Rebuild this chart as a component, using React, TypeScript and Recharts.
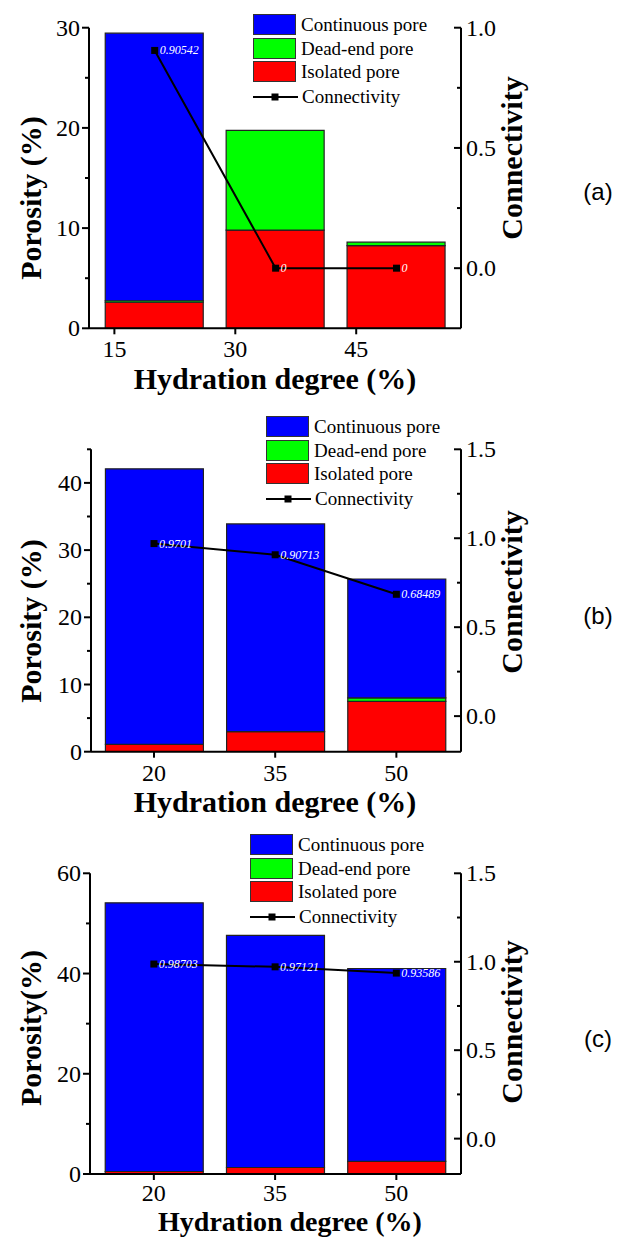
import React from 'react';
import { ComposedChart, Bar, Line, XAxis, YAxis, Legend, LabelList } from 'recharts';

const SERIF = "'Liberation Serif', 'Times New Roman', Times, serif";
const SANS = "'Liberation Sans', Arial, Helvetica, sans-serif";

// hydration degree of every bar
const hydration = [20, 35, 50];

// (a)
const isolatedA = [2.6, 9.8, 8.25];
const deadEndA = [0.15, 9.95, 0.35];
const continuousA = [26.7, 0, 0];
const connectivityA = [0.90542, 0, 0];
const xTicksA = [15, 30, 45];

// (b)
const isolatedB = [1.1, 3.0, 7.5];
const deadEndB = [0, 0, 0.5];
const continuousB = [41.0, 30.9, 17.7];
const connectivityB = [0.9701, 0.90713, 0.68489];
const xTicksB = [20, 35, 50];

// (c)
const isolatedC = [0.5, 1.3, 2.5];
const deadEndC = [0, 0, 0];
const continuousC = [53.6, 46.3, 38.5];
const connectivityC = [0.98703, 0.97121, 0.93586];
const xTicksC = [20, 35, 50];

const legendNames = ['Continuous pore', 'Dead-end pore', 'Isolated pore'];
const legendColors = ['#0000FF', '#00FF00', '#FF0000'];
const lineName = 'Connectivity';

const W = 627;
const X_AXIS_H = 30;
const AXIS_LINE = { stroke: '#000', strokeWidth: 2 };

const makeRows = (iso: number[], dead: number[], cont: number[], conn: number[]) =>
  hydration.map((x, i) => ({ x, isolated: iso[i], deadEnd: dead[i], continuous: cont[i], conn: conn[i] }));

const isMajor = (v: number, step: number) => Math.abs(v / step - Math.round(v / step)) < 1e-6;

const LegendBox = () => (
  <div style={{ fontFamily: SERIF, fontSize: 19, color: '#000' }}>
    {legendNames.map((n, i) => (
      <div key={n} style={{ display: 'flex', alignItems: 'center', height: 21, marginBottom: 2.6 }}>
        <div style={{ width: 43, height: 21, boxSizing: 'border-box', background: legendColors[i], border: '1.5px solid #333' }} />
        <span style={{ marginLeft: 5, whiteSpace: 'nowrap', lineHeight: '21px' }}>{n}</span>
      </div>
    ))}
    <div style={{ display: 'flex', alignItems: 'center', height: 24, marginTop: 1 }}>
      <svg width={45} height={14}>
        <line x1={0} x2={45} y1={7} y2={7} stroke="#000" strokeWidth={2} />
        <rect x={18.5} y={3.5} width={7} height={7} fill="#000" />
      </svg>
      <span style={{ marginLeft: 4, whiteSpace: 'nowrap', lineHeight: '24px' }}>{lineName}</span>
    </div>
  </div>
);

type Cfg = {
  top: number;
  height: number;
  plotTop: number;
  plotBottom: number;
  plotLeft: number;
  plotRight: number;
  xMin: number;
  xTicks: number[];
  yMax: number;
  yStep: number;
  yMajor: number;
  cMin: number;
  cMax: number;
  cTicks: number[];
  yTitle: string;
  yTitleY: number;
  cTitleY: number;
  xTitleX: number;
  xTitleDy: number;
  xTitleSize: number;
  xTickDy: number;
  tag: string;
  tagY: number;
  legendLeft: number;
  legendTop: number;
  rows: ReturnType<typeof makeRows>;
};

const Panel = ({ c }: { c: Cfg }) => {
  const L = c.plotLeft;
  const R = c.plotRight;
  const B = c.plotBottom - c.top;
  const mTop = c.plotTop - c.top;
  const mBottom = c.height - B - X_AXIS_H;
  const yTicks: number[] = [];
  for (let v = 0; v <= c.yMax + 1e-6; v += c.yStep) yTicks.push(v);

  return (
    <div style={{ position: 'absolute', left: 0, top: c.top, width: W, height: c.height }}>
      <ComposedChart width={W} height={c.height} data={c.rows} margin={{ top: mTop, right: 0, bottom: mBottom, left: 0 }}>
        <XAxis
          dataKey="x"
          type="number"
          domain={[c.xMin, 58]}
          ticks={c.xTicks}
          interval={0}
          allowDataOverflow
          height={X_AXIS_H}
          axisLine={AXIS_LINE}
          tickLine={false}
          tick={(p: any) => (
            <g>
              <line x1={p.x} x2={p.x} y1={B} y2={B + 6} stroke="#000" strokeWidth={2} />
              <text x={p.x} y={B + c.xTickDy} textAnchor="middle" dominantBaseline="central" fontSize={24} fontFamily={SERIF} fill="#000">
                {p.payload.value}
              </text>
            </g>
          )}
          label={{
            content: () => (
              <text x={c.xTitleX} y={B + c.xTitleDy} textAnchor="middle" fontSize={c.xTitleSize} fontWeight="bold" fontFamily={SERIF} fill="#000">
                Hydration degree (%)
              </text>
            ),
          }}
        />
        <YAxis
          yAxisId="por"
          orientation="left"
          width={L}
          domain={[0, c.yMax]}
          ticks={yTicks}
          interval={0}
          allowDataOverflow
          axisLine={AXIS_LINE}
          tickLine={false}
          tick={(p: any) => {
            const v = p.payload.value;
            const major = isMajor(v, c.yMajor);
            return (
              <g>
                <line x1={L} x2={L - (major ? 7 : 4)} y1={p.y} y2={p.y} stroke="#000" strokeWidth={2} />
                {major && (
                  <text x={L - 9} y={p.y} textAnchor="end" dominantBaseline="central" fontSize={24} fontFamily={SERIF} fill="#000">
                    {v}
                  </text>
                )}
              </g>
            );
          }}
          label={{
            content: () => (
              <text
                x={30}
                y={c.yTitleY - c.top}
                transform={`rotate(-90, 30, ${c.yTitleY - c.top})`}
                textAnchor="middle"
                dominantBaseline="central"
                fontSize={30}
                fontWeight="bold"
                fontFamily={SERIF}
                fill="#000"
              >
                {c.yTitle}
              </text>
            ),
          }}
        />
        <YAxis
          yAxisId="con"
          orientation="right"
          width={W - R}
          domain={[c.cMin, c.cMax]}
          ticks={c.cTicks}
          interval={0}
          allowDataOverflow
          axisLine={AXIS_LINE}
          tickLine={false}
          tick={(p: any) => {
            const v = p.payload.value;
            const major = isMajor(v, 0.5);
            return (
              <g>
                <line x1={R} x2={R - (major ? 7 : 4)} y1={p.y} y2={p.y} stroke="#000" strokeWidth={2} />
                {major && (
                  <text x={R + 5} y={p.y} textAnchor="start" dominantBaseline="central" fontSize={24} fontFamily={SERIF} fill="#000">
                    {v.toFixed(1)}
                  </text>
                )}
              </g>
            );
          }}
          label={{
            content: () => (
              <g>
                <text
                  x={511}
                  y={c.cTitleY - c.top}
                  transform={`rotate(-90, 511, ${c.cTitleY - c.top})`}
                  textAnchor="middle"
                  dominantBaseline="central"
                  fontSize={30}
                  fontWeight="bold"
                  fontFamily={SERIF}
                  fill="#000"
                >
                  Connectivity
                </text>
                <text x={598} y={c.tagY - c.top} textAnchor="middle" dominantBaseline="central" fontSize={24} fontFamily={SANS} fill="#000">
                  {c.tag}
                </text>
              </g>
            ),
          }}
        />
        <Legend
          layout="vertical"
          align="center"
          verticalAlign="middle"
          wrapperStyle={{ left: c.legendLeft, top: c.legendTop - c.top, width: 200 }}
          content={() => <LegendBox />}
        />
        <Bar yAxisId="por" dataKey="isolated" name="Isolated pore" stackId="p" fill="#FF0000" stroke="#222" strokeWidth={1.2} barSize={98} isAnimationActive={false} />
        <Bar yAxisId="por" dataKey="deadEnd" name="Dead-end pore" stackId="p" fill="#00FF00" stroke="#222" strokeWidth={1.2} barSize={98} isAnimationActive={false} />
        <Bar yAxisId="por" dataKey="continuous" name="Continuous pore" stackId="p" fill="#0000FF" stroke="#222" strokeWidth={1.2} barSize={98} isAnimationActive={false} />
        <Line
          yAxisId="con"
          dataKey="conn"
          name={lineName}
          type="linear"
          stroke="#000"
          strokeWidth={2}
          isAnimationActive={false}
          activeDot={false}
          dot={(p: any) => <rect key={`d${p.index}`} x={p.cx - 3.5} y={p.cy - 3.5} width={7} height={7} fill="#000" />}
        >
          <LabelList
            dataKey="conn"
            content={(p: any) => (
              <text x={Number(p.x) + 5} y={Number(p.y)} dominantBaseline="central" fontSize={12} fontStyle="italic" fontFamily={SERIF} fill="#fff">
                {String(p.value)}
              </text>
            )}
          />
        </Line>
      </ComposedChart>
    </div>
  );
};

const panels: Cfg[] = [
  {
    top: 0, height: 410, plotTop: 27.7, plotBottom: 328.3, plotLeft: 89, plotRight: 461,
    xMin: 11.85, xTicks: xTicksA, yMax: 30, yStep: 5, yMajor: 10,
    cMin: -0.25, cMax: 1.0, cTicks: [0, 0.25, 0.5, 0.75, 1.0],
    yTitle: 'Porosity (%)', yTitleY: 198, cTitleY: 158, xTitleX: 275, xTitleDy: 60.5, xTitleSize: 30, xTickDy: 21,
    tag: '(a)', tagY: 191, legendLeft: 253, legendTop: 14,
    rows: makeRows(isolatedA, deadEndA, continuousA, connectivityA),
  },
  {
    top: 410, height: 410, plotTop: 449.3, plotBottom: 751.7, plotLeft: 91, plotRight: 461,
    xMin: 12.2, xTicks: xTicksB, yMax: 45, yStep: 5, yMajor: 10,
    cMin: -0.2, cMax: 1.5, cTicks: [0, 0.25, 0.5, 0.75, 1.0, 1.25, 1.5],
    yTitle: 'Porosity (%)', yTitleY: 621, cTitleY: 592, xTitleX: 275, xTitleDy: 60.5, xTitleSize: 30, xTickDy: 21,
    tag: '(b)', tagY: 615.7, legendLeft: 266, legendTop: 416,
    rows: makeRows(isolatedB, deadEndB, continuousB, connectivityB),
  },
  {
    top: 820, height: 417, plotTop: 873.3, plotBottom: 1174, plotLeft: 90, plotRight: 461,
    xMin: 12.1, xTicks: xTicksC, yMax: 60, yStep: 10, yMajor: 20,
    cMin: -0.2, cMax: 1.5, cTicks: [0, 0.25, 0.5, 0.75, 1.0, 1.25, 1.5],
    yTitle: 'Porosity(%)', yTitleY: 1028, cTitleY: 1022, xTitleX: 290, xTitleDy: 56.8, xTitleSize: 28, xTickDy: 18.5,
    tag: '(c)', tagY: 1038, legendLeft: 250, legendTop: 834,
    rows: makeRows(isolatedC, deadEndC, continuousC, connectivityC),
  },
];

export default function App() {
  return (
    <div style={{ position: 'absolute', left: 0, top: 0, width: W, height: 1237, background: '#fff', overflow: 'hidden' }}>
      {panels.map((c) => (
        <Panel key={c.tag} c={c} />
      ))}
    </div>
  );
}
